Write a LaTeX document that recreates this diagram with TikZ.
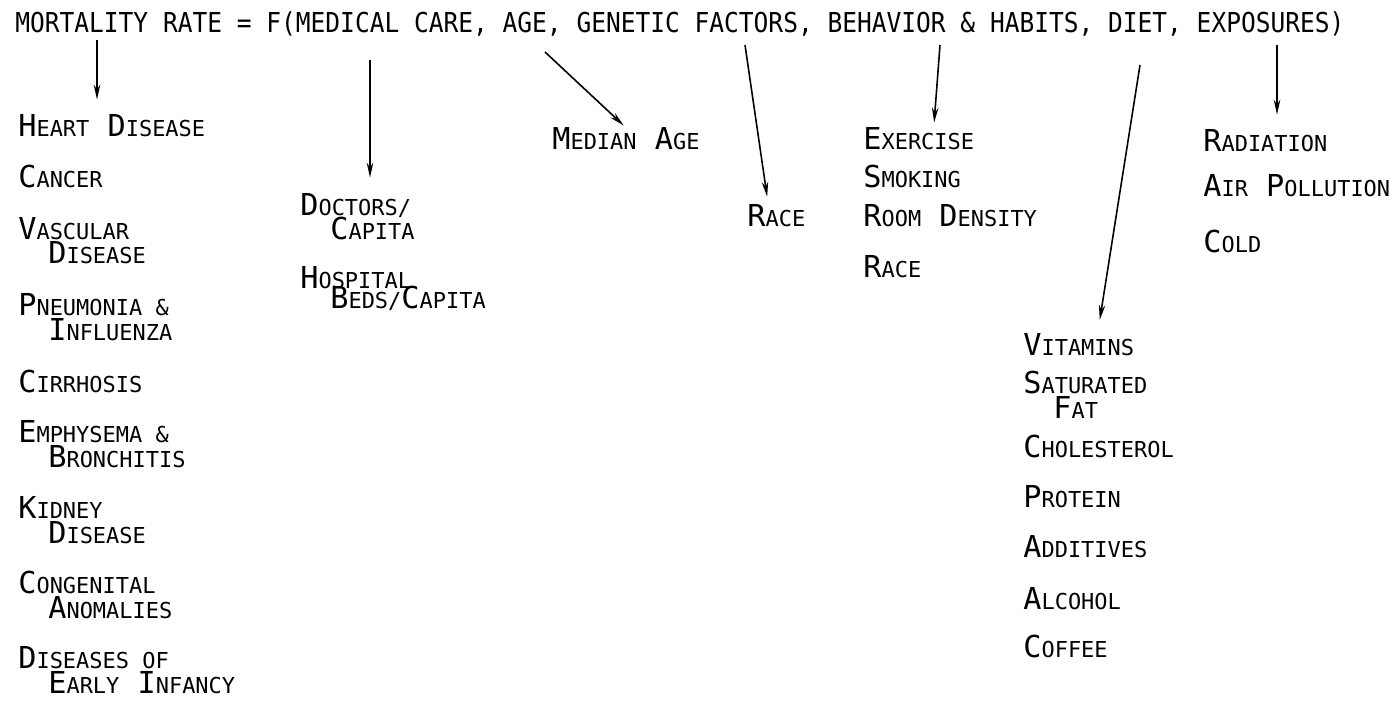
\documentclass[tikz,border=0pt]{standalone}
\usepackage{fontspec}
\usepackage{tikz}
\usetikzlibrary{arrows.meta}
\newfontfamily\plotfont{DejaVu Sans Mono}
\newfontfamily\titlefont[FakeStretch=0.895]{DejaVu Sans Mono}
\newcommand{\sm}[1]{{\fontsize{12.5}{14.2}\selectfont #1}}
\newcommand{\ind}{\hspace*{0.6cm}}
\setlength{\lineskiplimit}{-20pt}

\begin{document}
\begin{tikzpicture}[x=0.02cm, y=-0.02cm,
    item/.style={anchor=base west, inner sep=0pt, align=left,
      font=\plotfont\fontsize{17.2}{14.2}\selectfont},
    arr/.style={-{Stealth[length=0.3cm, width=0.13cm]}, line width=0.9pt}]
    \useasboundingbox (0,0) rectangle (1398,702);
    \node[item, font=\titlefont\fontsize{15.6}{14.2}\selectfont] (title) at (15,33)
        {MORTALITY RATE = F(MEDICAL CARE, AGE, GENETIC FACTORS, BEHAVIOR \& HABITS, DIET, EXPOSURES)};
    % where the arrows leave the title
    \coordinate (tMort) at (97,40);
    \coordinate (tCare) at (370,60);
    \coordinate (tAge) at (545,52);
    \coordinate (tGene) at (745,45);
    \coordinate (tHabit) at (940,45);
    \coordinate (tDiet) at (1140,65);
    \coordinate (tExpo) at (1277,45);
    % causes of death (two-line nodes sit on their last line)
    \node[item] (heart) at (18,137) {H\sm{EART} D\sm{ISEASE}};
    \node[item] (cancer) at (18,188) {C\sm{ANCER}};
    \node[item] (vascular) at (18,264) {V\sm{ASCULAR}\\\ind D\sm{ISEASE}};
    \node[item] (pneumonia) at (18,340) {P\sm{NEUMONIA \&}\\\ind I\sm{NFLUENZA}};
    \node[item] (cirrhosis) at (18,392) {C\sm{IRRHOSIS}};
    \node[item] (emphysema) at (18,467) {E\sm{MPHYSEMA \&}\\\ind B\sm{RONCHITIS}};
    \node[item] (kidney) at (18,543) {K\sm{IDNEY}\\\ind D\sm{ISEASE}};
    \node[item] (congenital) at (18,618) {C\sm{ONGENITAL}\\\ind A\sm{NOMALIES}};
    \node[item] (infancy) at (18,693) {D\sm{ISEASES OF}\\\ind E\sm{ARLY} I\sm{NFANCY}};
    % medical care
    \node[item] (doctors) at (300,240) {D\sm{OCTORS/}\\\ind C\sm{APITA}};
    \node[item] (hospital) at (300,308) {H\sm{OSPITAL}\\[-3pt]\ind B\sm{EDS/}C\sm{APITA}};
    % age, genetic factors
    \node[item] (medage) at (552,150) {M\sm{EDIAN} A\sm{GE}};
    \node[item] (race) at (747,227) {R\sm{ACE}};
    % behavior and habits
    \node[item] (exercise) at (863,150) {E\sm{XERCISE}};
    \node[item] (smoking) at (863,188) {S\sm{MOKING}};
    \node[item] (density) at (863,227) {R\sm{OOM} D\sm{ENSITY}};
    \node[item] (racetwo) at (863,277) {R\sm{ACE}};
    % diet
    \node[item] (vitamins) at (1023,355) {V\sm{ITAMINS}};
    \node[item] (saturated) at (1023,418) {S\sm{ATURATED}\\\ind F\sm{AT}};
    \node[item] (cholesterol) at (1023,457) {C\sm{HOLESTEROL}};
    \node[item] (protein) at (1023,507) {P\sm{ROTEIN}};
    \node[item] (additives) at (1023,557) {A\sm{DDITIVES}};
    \node[item] (alcohol) at (1023,609) {A\sm{LCOHOL}};
    \node[item] (coffee) at (1023,657) {C\sm{OFFEE}};
    % exposures
    \node[item] (radiation) at (1203,152) {R\sm{ADIATION}};
    \node[item] (pollution) at (1203,197) {A\sm{IR} P\sm{OLLUTION}};
    \node[item] (cold) at (1203,253) {C\sm{OLD}};
    % arrows
    \draw[arr, shorten >=0.3cm] (tMort) -- (tMort |- heart.north);
    \draw[arr, shorten >=0.3cm] (tCare) -- (tCare |- doctors.north);
    \draw[arr, shorten >=0.06cm] (tAge) -- (medage.north);
    \draw[arr, shorten >=0.16cm] (tGene) -- ([xshift=-0.16cm]race.north);
    \draw[arr, shorten >=0.1cm] (tHabit) -- ([xshift=0.3cm]exercise.north);
    \draw[arr, shorten >=0.26cm] (tDiet) -- ([xshift=0.38cm]vitamins.north);
    \draw[arr, shorten >=0.3cm] (tExpo) -- (tExpo |- radiation.north);
\end{tikzpicture}
\end{document}
